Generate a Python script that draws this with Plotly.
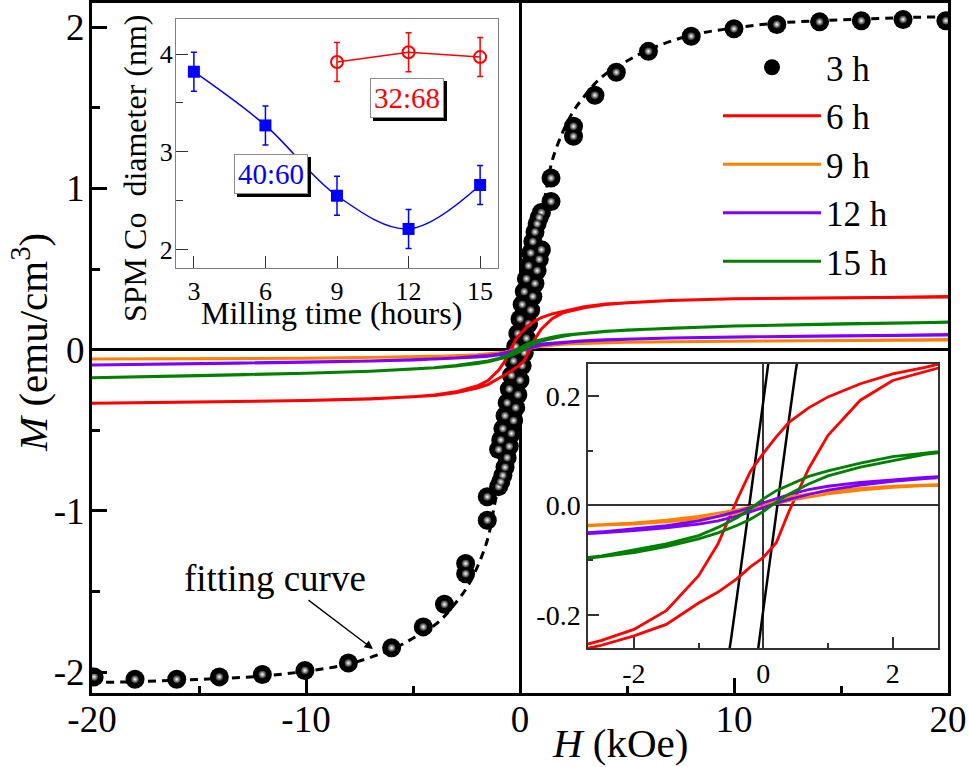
import plotly.graph_objects as go

FONT = 'Liberation Serif, Times New Roman, serif'

# ---- 3 h sample: measured loop points (H in kOe, M in emu/cm3) ----
h3_down = [19.9, 17.9, 15.95, 14.0, 12.0, 10.0, 8.0, 6.0, 4.5, 3.5, 2.5, 1.45,
           1.0, 0.9, 0.8, 0.7, 0.6, 0.5, 0.4, 0.3, 0.2, 0.1, 0.0,
           -0.1, -0.2, -0.3, -0.4, -0.5, -0.6, -0.7, -0.8, -0.9, -1.0,
           -1.53, -2.54, -3.53, -4.52, -6.0, -8.02, -10.05, -12.04, -14.05,
           -16.04, -17.99, -19.9]
m3_down = [2.04, 2.048, 2.04, 2.033, 2.017, 1.99, 1.944, 1.85, 1.72, 1.578, 1.385, 1.064,
           0.85, 0.82, 0.78, 0.73, 0.67, 0.60, 0.52, 0.44, 0.36, 0.28, 0.19,
           0.10, 0.02, -0.07, -0.16, -0.245, -0.33, -0.41, -0.49, -0.56, -0.62,
           -0.913, -1.327, -1.58, -1.72, -1.85, -1.944, -1.99, -2.015, -2.03,
           -2.045, -2.045, -2.03]
h3_up = [-2.54, -1.53,
         -1.0, -0.9, -0.8, -0.7, -0.6, -0.5, -0.4, -0.3, -0.2, -0.1, 0.0,
         0.1, 0.2, 0.3, 0.4, 0.5, 0.6, 0.7, 0.8, 0.9, 1.0,
         1.45, 2.5]
m3_up = [-1.39, -1.058,
         -0.85, -0.82, -0.78, -0.73, -0.67, -0.60, -0.52, -0.44, -0.36, -0.28, -0.19,
         -0.10, -0.02, 0.07, 0.16, 0.245, 0.33, 0.41, 0.49, 0.56, 0.62,
         0.919, 1.323]

# fitting curve for the 3 h sample
h_fit = [-20, -18, -16, -14, -12, -10, -8, -6, -5, -4, -3.5, -3, -2.5, -2, -1.5,
         -1.2, -1, -0.8, -0.6, -0.4, -0.2, 0, 0.2, 0.4, 0.6, 0.8, 1, 1.2,
         1.5, 2, 2.5, 3, 3.5, 4, 5, 6, 8, 10, 12, 14, 16, 18, 20]
m_fit = [-2.065, -2.06, -2.05, -2.04, -2.025, -1.995, -1.95, -1.86, -1.79, -1.71, -1.65, -1.57,
         -1.48, -1.35, -1.17, -0.97, -0.84, -0.70, -0.55, -0.37, -0.19, 0.0, 0.19, 0.37,
         0.55, 0.70, 0.84, 0.97, 1.17, 1.35, 1.48, 1.57, 1.65, 1.71, 1.79, 1.86, 1.95,
         1.995, 2.025, 2.04, 2.05, 2.06, 2.065]

# ---- 6, 9, 12, 15 h loops ----
h_loop_down = [20, 15, 10, 7, 5, 4, 3, 2.5, 2, 1.5, 1, 0.7, 0.4, 0.2, 0,
               -0.2, -0.4, -0.7, -1, -1.5, -2, -2.5, -3, -4, -5, -7, -10, -15, -20]
h_loop_up = h_loop_down[::-1]

m6_down = [0.327, 0.322, 0.315, 0.305, 0.293, 0.283, 0.266, 0.252, 0.240, 0.222, 0.198,
           0.178, 0.152, 0.125, 0.095, 0.062, 0.012, -0.070, -0.128, -0.192, -0.226,
           -0.246, -0.262, -0.281, -0.292, -0.305, -0.316, -0.325, -0.332]
m6_up = [-0.332, -0.325, -0.316, -0.306, -0.294, -0.284, -0.268, -0.255, -0.238, -0.217,
         -0.178, -0.158, -0.133, -0.112, -0.095, -0.068, -0.010, 0.067, 0.128, 0.192,
         0.228, 0.245, 0.260, 0.280, 0.291, 0.304, 0.315, 0.322, 0.327]

m9_down = [0.060, 0.057, 0.053, 0.049, 0.045, 0.043, 0.039, 0.037, 0.035, 0.031, 0.026,
           0.021, 0.015, 0.009, 0.003, -0.003, -0.008, -0.014, -0.020, -0.027, -0.032,
           -0.035, -0.038, -0.042, -0.045, -0.049, -0.053, -0.057, -0.059]
m9_up = [-0.059, -0.057, -0.053, -0.049, -0.045, -0.042, -0.039, -0.036, -0.034, -0.030,
         -0.025, -0.020, -0.014, -0.008, -0.002, 0.004, 0.009, 0.015, 0.021, 0.028,
         0.033, 0.036, 0.038, 0.043, 0.045, 0.049, 0.053, 0.057, 0.060]

m12_down = [0.091, 0.086, 0.079, 0.072, 0.066, 0.061, 0.055, 0.051, 0.047, 0.042, 0.035,
            0.029, 0.020, 0.013, 0.005, -0.004, -0.011, -0.020, -0.028, -0.037, -0.043,
            -0.048, -0.052, -0.059, -0.064, -0.071, -0.079, -0.088, -0.095]
m12_up = [-0.095, -0.088, -0.079, -0.071, -0.065, -0.060, -0.054, -0.050, -0.046, -0.041,
          -0.034, -0.028, -0.019, -0.012, -0.004, 0.004, 0.011, 0.020, 0.028, 0.037,
          0.044, 0.049, 0.053, 0.060, 0.065, 0.072, 0.079, 0.086, 0.091]

m15_down = [0.170, 0.160, 0.146, 0.133, 0.122, 0.114, 0.102, 0.096, 0.089, 0.077, 0.063,
            0.053, 0.038, 0.027, 0.012, -0.006, -0.022, -0.040, -0.055, -0.070, -0.081,
            -0.092, -0.099, -0.112, -0.121, -0.134, -0.147, -0.162, -0.174]
m15_up = [-0.174, -0.162, -0.147, -0.134, -0.122, -0.113, -0.101, -0.094, -0.086, -0.075,
          -0.061, -0.050, -0.036, -0.025, -0.011, 0.006, 0.021, 0.039, 0.054, 0.070,
          0.082, 0.093, 0.100, 0.113, 0.122, 0.133, 0.146, 0.160, 0.170]

loop_names = ['6 h', '9 h', '12 h', '15 h']
loop_colors = ['#ff0000', '#ff8000', '#8000ff', '#008000']

# ---- inset: SPM Co diameter vs milling time ----
mill_time = [3, 6, 9, 12, 15]
d_4060 = [3.82, 3.27, 2.55, 2.21, 2.66]
d_4060_err = [0.2, 0.2, 0.2, 0.2, 0.2]
mill_time_3268 = [9, 12, 15]
d_3268 = [3.92, 4.02, 3.97]
d_3268_err = [0.2, 0.2, 0.2]

# tick labels
main_x_ticks = [-20, -10, 0, 10, 20]
main_x_text = ['-20', '-10', '0', '10', '20']
main_y_ticks = [-2, -1, 0, 1, 2]
main_y_text = ['-2', '-1', '0', '1', '2']
ins_x_ticks = [3, 6, 9, 12, 15]
ins_y_ticks = [2, 3, 4]
zoom_x_ticks = [-2, 0, 2]
zoom_x_text = ['-2', '0', '2']
zoom_y_ticks = [-0.2, 0.0, 0.2]
zoom_y_text = ['-0.2', '0.0', '0.2']

fig = go.Figure()

# fitting curve (dashed) behind the points
fig.add_trace(go.Scatter(
    x=h_fit, y=m_fit, mode='lines', showlegend=False,
    line=dict(color='black', width=3, dash='8px,6px', shape='spline'),
))

# 3 h points with a small highlight
h3_all = h3_down + h3_up
m3_all = m3_down + m3_up
fig.add_trace(go.Scatter(
    x=h3_all, y=m3_all, mode='markers', name='3 h',
    marker=dict(color='black', size=19, line=dict(width=0)),
))
fig.add_trace(go.Scatter(
    x=h3_all, y=m3_all, mode='markers', showlegend=False, hoverinfo='skip',
    marker=dict(color='#222222', size=8, line=dict(width=0),
                gradient=dict(type='radial', color='white')),
))

loops_down = [m6_down, m9_down, m12_down, m15_down]
loops_up = [m6_up, m9_up, m12_up, m15_up]

for name, color, mdown, mup in zip(loop_names, loop_colors, loops_down, loops_up):
    fig.add_trace(go.Scatter(
        x=h_loop_down + h_loop_up, y=mdown + mup, mode='lines', name=name,
        line=dict(color=color, width=3),
    ))

# zoomed inset (lower right)
fig.add_trace(go.Scatter(
    x=h3_all, y=m3_all, mode='lines', showlegend=False,
    line=dict(color='black', width=2.5), xaxis='x3', yaxis='y3',
))
for name, color, mdown, mup in zip(loop_names, loop_colors, loops_down, loops_up):
    fig.add_trace(go.Scatter(
        x=h_loop_down + h_loop_up, y=mdown + mup, mode='lines', showlegend=False,
        line=dict(color=color, width=2.8), xaxis='x3', yaxis='y3',
    ))

# diameter inset (upper left)
fig.add_trace(go.Scatter(
    x=mill_time, y=d_4060, mode='lines+markers', showlegend=False,
    line=dict(color='#0000ff', width=1.5, shape='spline'),
    marker=dict(symbol='square', size=12, color='#0000ff'),
    error_y=dict(type='data', array=d_4060_err, color='#0000ff', thickness=1.5, width=3),
    xaxis='x2', yaxis='y2',
))
fig.add_trace(go.Scatter(
    x=mill_time_3268, y=d_3268, mode='lines+markers', showlegend=False,
    line=dict(color='#ff0000', width=1.5),
    marker=dict(symbol='circle-open', size=12, color='#ff0000', line=dict(width=2)),
    error_y=dict(type='data', array=d_3268_err, color='#ff0000', thickness=1.5, width=3),
    xaxis='x2', yaxis='y2',
))

tick_font = dict(family=FONT, size=37, color='black')

annotations = [
    # axis titles
    dict(text='<i>H</i> (kOe)', x=620 / 969, y=1 - 743 / 767, xref='paper', yref='paper',
         xanchor='center', yanchor='middle', showarrow=False,
         font=dict(family=FONT, size=41, color='black')),
    dict(text='<i>M</i> (emu/cm<sup>3</sup>)', x=30 / 969, y=1 - 343 / 767,
         xref='paper', yref='paper', xanchor='center', yanchor='middle',
         textangle=-90, showarrow=False,
         font=dict(family=FONT, size=41, color='black')),
    dict(text='Milling time (hours)', x=331 / 969, y=1 - 313 / 767, xref='paper', yref='paper',
         xanchor='center', yanchor='middle', showarrow=False,
         font=dict(family=FONT, size=32, color='black')),
    dict(text='SPM Co&nbsp; diameter (nm)', x=135 / 969, y=1 - 168 / 767,
         xref='paper', yref='paper', xanchor='center', yanchor='middle',
         textangle=-90, showarrow=False,
         font=dict(family=FONT, size=32, color='black')),
    # fitting curve label and arrow
    dict(text='fitting curve', x=-11.45, y=-1.42, xref='x', yref='y', showarrow=False,
         font=dict(family=FONT, size=37, color='black')),
    dict(text='', x=-6.87, y=-1.857, xref='x', yref='y', ax=-66, ay=-50,
         showarrow=True, arrowhead=2, arrowsize=1.3, arrowwidth=1.3, arrowcolor='black'),
]

# boxed composition labels with drop shadow
for label, color, bx, by in [('40:60', '#0000ff', 6.23, 2.77), ('32:68', '#ff0000', 11.94, 3.55)]:
    annotations.append(dict(
        text=label, x=bx, y=by, xref='x2', yref='y2', showarrow=False,
        xshift=3, yshift=-3, bgcolor='black', bordercolor='black', borderwidth=1,
        borderpad=3, font=dict(family=FONT, size=29, color='black'),
    ))
    annotations.append(dict(
        text=label, x=bx, y=by, xref='x2', yref='y2', showarrow=False,
        bgcolor='white', bordercolor='#8c8c8c', borderwidth=1,
        borderpad=3, font=dict(family=FONT, size=29, color=color),
    ))

fig.update_layout(
    width=969,
    height=767,
    margin=dict(l=0, r=0, t=0, b=0, autoexpand=False),
    paper_bgcolor='white',
    plot_bgcolor='white',
    font=dict(family=FONT, color='black'),
    showlegend=True,
    legend=dict(
        x=718 / 969, y=1 - 38 / 767, xanchor='left', yanchor='top',
        font=dict(family=FONT, size=35, color='black'),
        bgcolor='rgba(0,0,0,0)', itemwidth=98, tracegroupgap=0,
    ),
    annotations=annotations,
    xaxis=dict(
        domain=[92 / 969, 948 / 969], range=[-20, 20], anchor='y',
        tickvals=main_x_ticks, ticktext=main_x_text, tickfont=tick_font,
        ticks='inside', ticklen=15, tickwidth=2.5, tickcolor='black',
        ticklabelstandoff=-8,
        minor=dict(tickvals=[-15, -5, 5, 15], ticks='inside', ticklen=7,
                   tickwidth=2.5, tickcolor='black', showgrid=False),
        showline=True, linecolor='black', linewidth=3, mirror=True,
        showgrid=False, zeroline=True, zerolinecolor='black', zerolinewidth=2.5,
    ),
    yaxis=dict(
        domain=[1 - 693 / 767, 1 - 3 / 767], range=[-2.13, 2.15], anchor='x',
        tickvals=main_y_ticks, ticktext=main_y_text, tickfont=tick_font,
        ticks='inside', ticklen=15, tickwidth=2.5, tickcolor='black',
        ticklabelstandoff=-3,
        minor=dict(tickvals=[-1.5, -0.5, 0.5, 1.5], ticks='inside', ticklen=8,
                   tickwidth=2.5, tickcolor='black', showgrid=False),
        showline=True, linecolor='black', linewidth=3, mirror=True,
        showgrid=False, zeroline=True, zerolinecolor='black', zerolinewidth=2.5,
    ),
    xaxis2=dict(
        domain=[176 / 969, 498 / 969], range=[2.25, 15.75], anchor='y2',
        tickvals=ins_x_ticks, tickfont=dict(family=FONT, size=26, color='black'),
        ticks='inside', ticklen=12, tickwidth=1.2, tickcolor='#333333',
        showline=True, linecolor='#808080', linewidth=1.2, mirror=True,
        showgrid=False, zeroline=False,
    ),
    yaxis2=dict(
        domain=[1 - 268 / 767, 1 - 19 / 767], range=[1.81, 4.36], anchor='x2',
        tickvals=ins_y_ticks, tickfont=dict(family=FONT, size=26, color='black'),
        ticks='inside', ticklen=12, tickwidth=1.2, tickcolor='#333333',
        ticklabelstandoff=-3,
        minor=dict(tickvals=[2.5, 3.5], ticks='inside', ticklen=7,
                   tickwidth=1.2, tickcolor='#333333', showgrid=False),
        showline=True, linecolor='#808080', linewidth=1.2, mirror=True,
        showgrid=False, zeroline=False,
    ),
    xaxis3=dict(
        domain=[588 / 969, 938 / 969], range=[-2.71, 2.70], anchor='y3',
        tickvals=zoom_x_ticks, ticktext=zoom_x_text,
        tickfont=dict(family=FONT, size=28, color='black'),
        ticks='inside', ticklen=11, tickwidth=1.5, tickcolor='#333333',
        minor=dict(tickvals=[-1, 1], ticks='inside', ticklen=5,
                   tickwidth=1.5, tickcolor='#333333', showgrid=False),
        showline=True, linecolor='#333333', linewidth=1.5, mirror=True,
        showgrid=False, zeroline=True, zerolinecolor='#333333', zerolinewidth=1.5,
    ),
    yaxis3=dict(
        domain=[1 - 648 / 767, 1 - 364 / 767], range=[-0.26, 0.258], anchor='x3',
        tickvals=zoom_y_ticks, ticktext=zoom_y_text,
        tickfont=dict(family=FONT, size=28, color='black'),
        ticks='inside', ticklen=11, tickwidth=1.5, tickcolor='#333333',
        minor=dict(tickvals=[-0.1, 0.1], ticks='inside', ticklen=5,
                   tickwidth=1.5, tickcolor='#333333', showgrid=False),
        showline=True, linecolor='#333333', linewidth=1.5, mirror=True,
        showgrid=False, zeroline=True, zerolinecolor='#333333', zerolinewidth=1.5,
    ),
)

# Page body margin would shift the figure; drop it so the figure fills the window
fig.write_html(
    'out.html',
    config=dict(displayModeBar=False),
    post_script="document.body.style.margin = '0';",
)
